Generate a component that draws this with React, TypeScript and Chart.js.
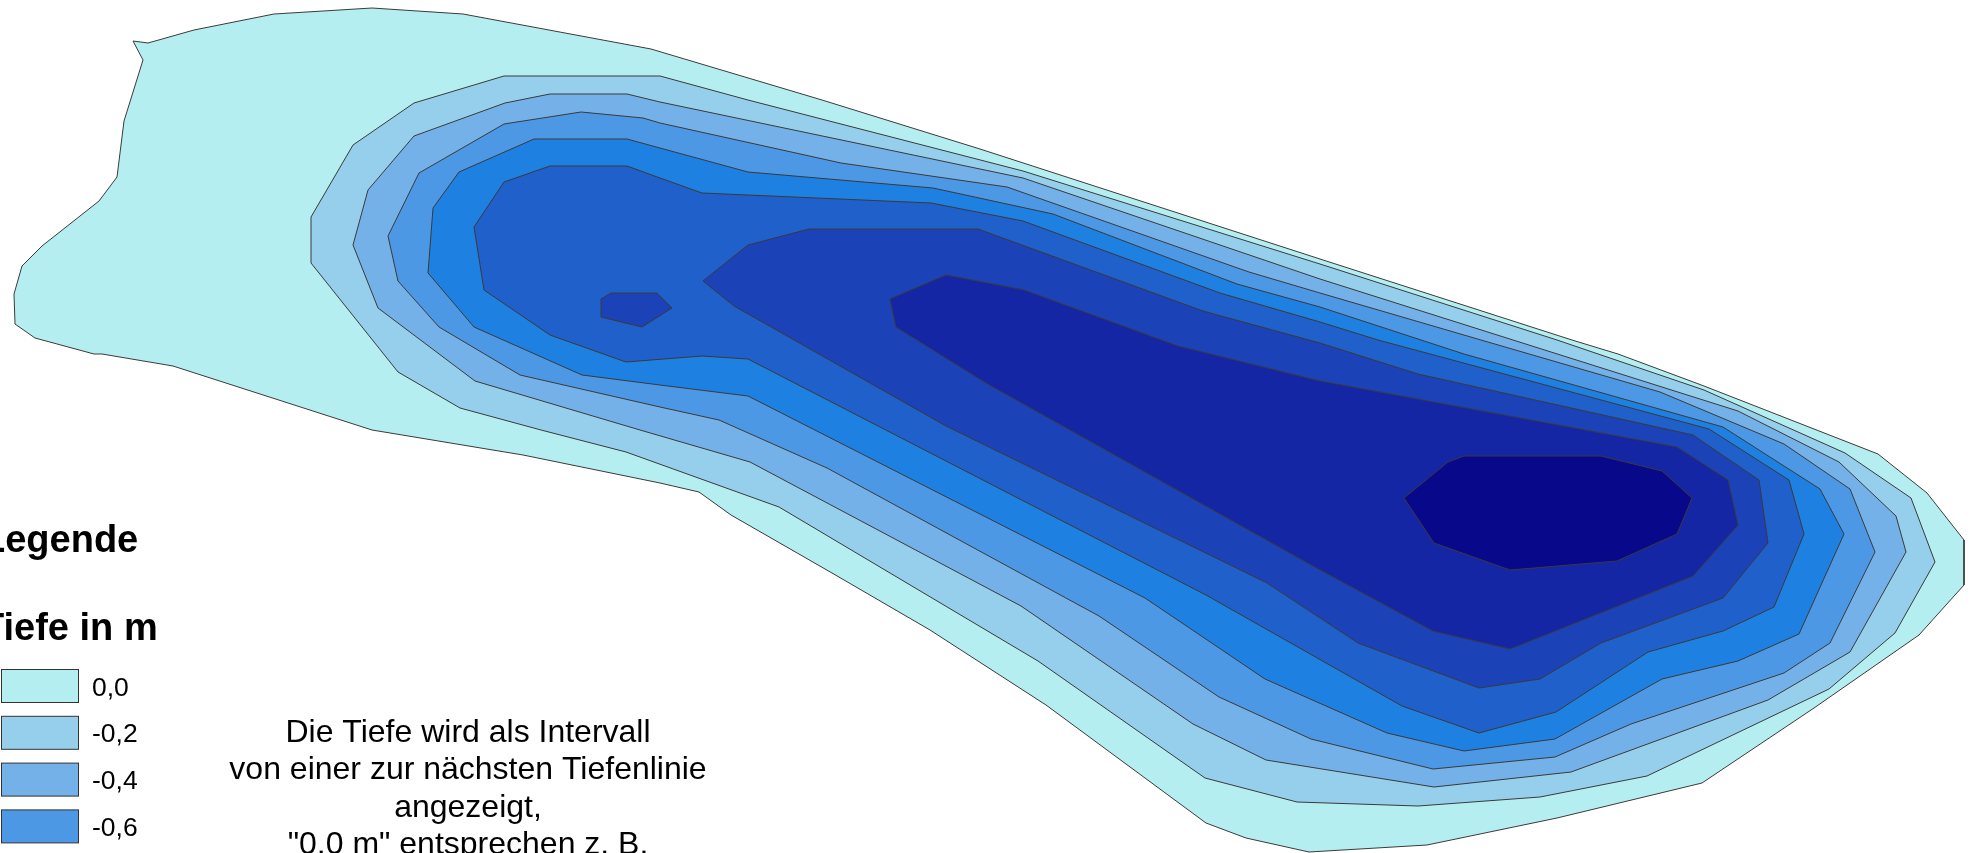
import React, { useEffect, useRef } from "react";
import { Chart, registerables } from "chart.js";

Chart.register(...registerables);

type Pair = [number, number];

const depth00: Pair[] = [[133,41],[148,43],[194,30],[274,14],[372,8],[463,14],[651,49],[822,100],[980,149],[1320,259],[1572,340],[1618,354],[1704,386],[1878,454],[1927,493],[1964,540],[1964,585],[1919,635],[1814,708],[1702,783],[1557,818],[1427,845],[1309,852],[1246,838],[1206,823],[1046,705],[930,630],[832,573],[731,515],[699,492],[660,483],[523,455],[372,430],[173,366],[102,354],[94,354],[35,338],[15,324],[14,294],[22,266],[42,246],[99,201],[117,177],[124,121],[143,60]];
const depth02: Pair[] = [[504,76],[660,76],[748,100],[1023,171],[1320,264],[1557,340],[1704,390],[1845,453],[1911,498],[1935,562],[1895,633],[1829,689],[1647,776],[1540,797],[1418,806],[1297,802],[1205,778],[1038,661],[779,507],[626,452],[541,430],[460,408],[398,372],[311,263],[311,217],[353,145],[414,103]];
const depth04: Pair[] = [[550,94],[627,94],[660,102],[1023,178],[1320,279],[1513,340],[1738,411],[1839,462],[1896,516],[1906,552],[1850,652],[1768,700],[1571,772],[1434,787],[1266,760],[1193,724],[1021,606],[750,462],[640,430],[475,381],[378,308],[353,245],[368,190],[414,136],[505,103]];
const depth06: Pair[] = [[581,112],[643,118],[660,123],[841,163],[1007,187],[1249,272],[1320,293],[1481,340],[1660,392],[1784,444],[1850,489],[1875,552],[1830,643],[1784,673],[1631,724],[1555,757],[1433,769],[1311,739],[1219,697],[1099,616],[827,468],[719,420],[660,407],[520,375],[439,327],[398,281],[388,236],[419,173],[504,124]];
const depth08: Pair[] = [[534,139],[627,139],[660,148],[748,172],[933,188],[1053,214],[1237,284],[1320,307],[1464,354],[1723,427],[1820,489],[1844,534],[1799,634],[1738,661],[1662,679],[1555,739],[1464,751],[1387,733],[1265,679],[1145,598],[748,396],[660,385],[582,375],[474,327],[428,273],[433,208],[459,172]];
const depth10: Pair[] = [[550,166],[627,166],[660,178],[702,193],[931,203],[1023,221],[1220,293],[1320,322],[1378,340],[1709,429],[1789,480],[1804,534],[1774,607],[1723,631],[1648,652],[1556,712],[1479,733],[1402,706],[1206,595],[748,359],[702,356],[626,362],[550,335],[484,290],[474,227],[504,182]];
const depth12: Pair[] = [[809,229],[978,229],[1203,311],[1320,343],[1418,374],[1693,435],[1759,480],[1768,543],[1723,598],[1601,643],[1540,679],[1479,688],[1358,643],[1267,583],[946,426],[734,306],[703,281],[748,245]];
const depth12b: Pair[] = [[611,293],[657,293],[672,308],[642,327],[601,317],[601,299]];
const depth14: Pair[] = [[946,275],[1024,290],[1178,346],[1320,381],[1677,447],[1728,480],[1738,525],[1693,576],[1510,649],[1433,631],[1313,566],[986,383],[896,327],[890,299]];
const depth16: Pair[] = [[1404,498],[1448,462],[1464,456],[1601,456],[1662,471],[1692,498],[1677,534],[1617,561],[1510,570],[1434,543]];

const contours: Pair[][] = [depth00, depth02, depth04, depth06, depth08, depth10, depth12, depth12b, depth14, depth16];
const contourNames = ["0,0", "-0,2", "-0,4", "-0,6", "-0,8", "-1,0", "-1,2", "-1,2", "-1,4", "-1,6"];
const contourColors = ["#B5EEF0", "#95CFEC", "#73B1E8", "#4D98E5", "#1E80E0", "#2060CB", "#1B42B7", "#1B42B7", "#1426A3", "#08088B"];

const legendTitle = "Legende";
const legendSubtitle = "Tiefe in m";
const legendLabels = ["0,0", "-0,2", "-0,4", "-0,6"];
const legendSwatches = ["#B5EEF0", "#95CFEC", "#73B1E8", "#4D98E5"];
const noteLines = ["Die Tiefe wird als Intervall", "von einer zur nächsten Tiefenlinie", "angezeigt,", "\"0.0 m\" entsprechen z. B."];

const FONT = '"Liberation Sans", Arial, sans-serif';

const legendPlugin = {
  id: "mapLegend",
  afterDraw(chart: Chart) {
    const ctx = chart.ctx;
    ctx.save();
    ctx.fillStyle = "#000";
    ctx.textBaseline = "alphabetic";
    ctx.textAlign = "left";
    ctx.font = `bold 38px ${FONT}`;
    ctx.fillText(legendTitle, -18, 552);
    ctx.fillText(legendSubtitle, -19, 640);
    legendLabels.forEach((label, i) => {
      const top = 669.5 + i * 46.8;
      ctx.fillStyle = legendSwatches[i];
      ctx.strokeStyle = "#333";
      ctx.lineWidth = 1;
      ctx.fillRect(1.5, top, 77, 33);
      ctx.strokeRect(1.5, top, 77, 33);
      ctx.fillStyle = "#000";
      ctx.font = `26.5px ${FONT}`;
      ctx.fillText(label, 92, top + 26);
    });
    ctx.textAlign = "center";
    ctx.font = `32px ${FONT}`;
    noteLines.forEach((line, i) => ctx.fillText(line, 468, 742 + i * 37.3));
    ctx.restore();
  },
};

export default function App() {
  const ref = useRef<HTMLCanvasElement | null>(null);
  useEffect(() => {
    if (!ref.current) return;
    const chart = new Chart(ref.current, {
      type: "scatter",
      data: {
        datasets: contours.map((points, i) => ({
          label: contourNames[i],
          data: [...points, points[0]].map(([x, y]) => ({ x, y })),
          showLine: true,
          fill: "shape",
          tension: 0,
          pointRadius: 0,
          borderWidth: 1,
          borderColor: "#3a3a3a",
          backgroundColor: contourColors[i],
          order: -i,
        })),
      },
      options: {
        responsive: false,
        animation: false,
        devicePixelRatio: 1,
        layout: { padding: 0 },
        scales: {
          x: { type: "linear", min: 0, max: 1973, display: false },
          y: { type: "linear", min: 0, max: 853, reverse: true, display: false },
        },
        plugins: { legend: { display: false }, tooltip: { enabled: false }, title: { display: false } },
      },
      plugins: [legendPlugin],
    } as any);
    return () => chart.destroy();
  }, []);
  return (
    <div style={{ position: "fixed", left: 0, top: 0, width: 1973, height: 853, overflow: "hidden", background: "#fff" }}>
      <canvas ref={ref} width={1973} height={853} style={{ display: "block", width: 1973, height: 853 }} />
    </div>
  );
}
